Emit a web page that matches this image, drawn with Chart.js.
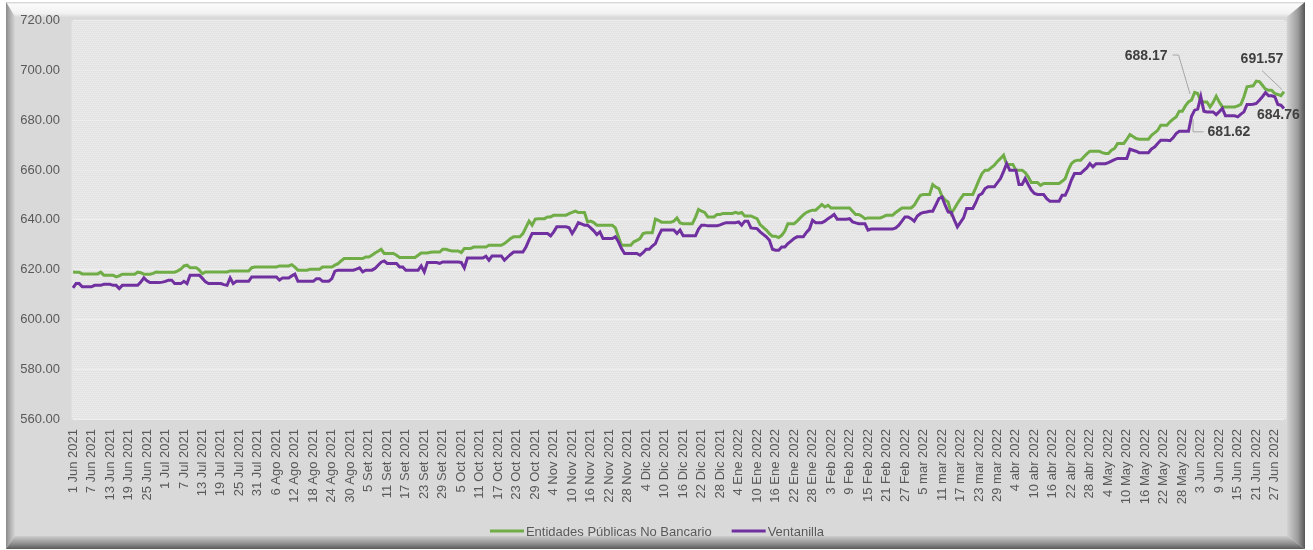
<!DOCTYPE html>
<html>
<head>
<meta charset="utf-8">
<script src="https://cdn.jsdelivr.net/npm/chart.js@4.4.0/dist/chart.umd.min.js"></script>
<style>
  html, body { margin: 0; padding: 0; background: #ffffff; }
  #wrap { position: relative; width: 1313px; height: 550px; }
</style>
</head>
<body>
<div id="wrap"><canvas id="chart" width="1313" height="550"></canvas></div>
<script>
// daily categories 1 Jun 2021 .. 30 Jun 2022 (1 Ene 2022 not in the series)
const monthNames = ['Ene', 'Feb', 'mar', 'abr', 'May', 'Jun', 'Jul', 'Ago', 'Set', 'Oct', 'Nov', 'Dic'];
const firstDay = [2021, 5, 1];
const lastDay = [2022, 5, 30];
const skippedDays = ['2022-0-1'];
const tickEvery = 6;

const seriesNames = ['Entidades Públicas No Bancario', 'Ventanilla'];
const seriesColors = ['#70AD47', '#7030A0'];

const yTicks = { min: 560, max: 720, step: 20 };

// Entidades Públicas No Bancario
const entidadesValues = [
  619.1, 619.0, 619.0, 618.3, 618.3, 618.3,
  618.3, 618.3, 618.3, 619.0, 617.8, 617.8,
  617.8, 617.8, 617.1, 617.5, 618.2, 618.2,
  618.2, 618.2, 618.2, 619.0, 618.8, 618.2,
  618.2, 618.2, 618.5, 619.1, 619.0, 619.0,
  619.0, 619.0, 619.0, 619.0, 619.5, 620.2,
  621.5, 621.8, 620.8, 620.8, 620.8, 619.8,
  618.4, 619.1, 619.1, 619.1, 619.1, 619.1,
  619.1, 619.1, 619.1, 619.5, 619.5, 619.5,
  619.5, 619.5, 619.5, 619.5, 620.8, 621.1,
  621.1, 621.1, 621.1, 621.1, 621.1, 621.1,
  621.1, 621.5, 621.5, 621.5, 621.5, 622.0,
  621.0, 619.8, 619.8, 619.8, 619.8, 620.2,
  620.2, 620.2, 620.2, 621.1, 621.1, 621.1,
  621.1, 621.8, 622.4, 623.5, 624.5, 624.5,
  624.5, 624.5, 624.5, 624.5, 624.5, 625.1,
  625.1, 625.8, 626.7, 627.4, 628.2, 626.5,
  626.5, 626.5, 626.5, 625.8, 624.9, 624.9,
  624.9, 624.9, 624.9, 624.9, 625.8, 626.7,
  626.7, 626.7, 627.0, 627.1, 627.1, 627.1,
  628.2, 628.2, 627.8, 627.5, 627.5, 627.5,
  626.9, 628.5, 628.5, 628.5, 629.1, 629.1,
  629.1, 629.1, 629.1, 629.8, 629.8, 629.8,
  629.8, 629.8, 630.5, 631.5, 632.5, 633.2,
  633.2, 633.2, 634.5, 637.0, 639.5, 637.9,
  640.3, 640.5, 640.5, 640.5, 641.2, 641.2,
  641.9, 641.9, 641.9, 641.9, 641.9, 642.5,
  643.0, 643.5, 643.0, 643.0, 643.0, 639.2,
  639.5, 638.9, 637.9, 637.9, 637.9, 637.9,
  637.9, 637.9, 636.8, 633.2, 629.8, 629.8,
  629.8, 629.8, 631.2, 631.8, 632.5, 634.5,
  634.8, 634.8, 634.8, 640.3, 639.8, 639.1,
  639.1, 639.1, 639.1, 639.5, 640.8, 638.8,
  638.5, 638.5, 638.5, 638.5, 641.0, 644.2,
  643.5, 643.0, 641.2, 641.2, 641.2, 642.2,
  642.2, 642.6, 642.6, 642.6, 642.6, 643.0,
  642.6, 643.0, 641.6, 641.6, 641.6, 641.0,
  640.5, 638.1, 637.0, 635.9, 634.5, 633.4,
  633.4, 632.9, 633.8, 635.5, 638.5, 638.5,
  638.5, 639.5, 640.8, 642.0, 643.0, 643.5,
  643.9, 643.9, 645.0, 646.2, 645.2, 645.9,
  644.8, 644.8, 644.8, 644.8, 644.8, 644.8,
  644.8, 643.5, 642.2, 642.2, 641.5, 640.5,
  640.8, 640.8, 640.8, 640.8, 640.8, 641.3,
  641.9, 641.9, 641.9, 643.0, 643.9, 644.8,
  644.8, 644.8, 644.8, 645.9, 648.0, 649.9,
  650.2, 650.2, 650.2, 654.2, 653.2, 652.6,
  649.6, 648.0, 647.2, 642.6, 644.5, 646.6,
  648.5, 650.2, 650.2, 650.2, 650.2, 653.0,
  656.0, 658.6, 660.0, 660.0, 661.0, 662.0,
  663.5, 664.7, 666.0, 662.3, 662.3, 662.3,
  660.0, 660.0, 660.0, 659.0, 657.3, 655.0,
  655.0, 655.0, 653.9, 654.6, 654.6, 654.6,
  654.6, 654.6, 654.6, 655.5, 656.6, 660.0,
  662.6, 663.6, 664.0, 664.0, 665.3, 666.5,
  667.6, 667.6, 667.6, 667.6, 667.0, 666.7,
  666.7, 668.0, 668.7, 670.7, 670.7, 670.7,
  672.4, 674.3, 673.5, 672.7, 672.4, 672.4,
  672.4, 672.4, 674.0, 675.0, 676.0, 678.0,
  678.0, 678.0, 679.4, 680.5, 681.4, 683.7,
  683.7, 685.8, 687.4, 688.17, 691.2, 690.8,
  687.7, 687.4, 687.4, 685.4, 687.2, 689.7,
  687.4, 685.4, 685.4, 685.4, 685.4, 685.4,
  685.8, 686.4, 689.5, 693.5, 693.7, 693.9,
  695.8, 695.6, 694.1, 692.5, 692.1, 692.1,
  690.8, 690.4, 689.9, 691.57
];

// Ventanilla
const ventanillaValues = [
  612.7, 614.4, 614.4, 613.1, 613.1, 613.1,
  613.1, 613.7, 613.7, 613.7, 614.1, 614.1,
  614.1, 613.7, 613.7, 612.4, 613.7, 613.7,
  613.7, 613.7, 613.7, 613.7, 615.0, 616.7,
  615.5, 614.8, 614.8, 614.8, 614.8, 615.0,
  615.3, 615.8, 615.8, 614.4, 614.4, 614.4,
  615.3, 614.4, 617.8, 617.8, 617.8, 617.8,
  616.5, 615.1, 614.4, 614.4, 614.4, 614.4,
  614.4, 614.0, 613.7, 616.7, 614.4, 615.3,
  615.3, 615.3, 615.3, 615.3, 617.1, 617.1,
  617.1, 617.1, 617.1, 617.1, 617.1, 617.1,
  617.1, 615.8, 616.7, 616.7, 616.7, 617.5,
  618.2, 615.3, 615.3, 615.3, 615.3, 615.3,
  615.3, 616.4, 616.4, 615.3, 615.3, 615.3,
  616.4, 619.4, 619.8, 619.8, 619.8, 619.8,
  619.8, 619.8, 620.2, 620.7, 619.1, 619.8,
  619.8, 619.8, 620.5, 621.8, 623.0, 623.5,
  622.5, 622.5, 622.5, 622.5, 621.1, 621.1,
  619.8, 619.8, 619.8, 619.8, 619.8, 621.5,
  619.1, 622.9, 622.9, 622.9, 622.9, 622.5,
  623.1, 623.1, 623.1, 623.1, 623.1, 623.1,
  622.9, 620.7, 624.7, 624.7, 624.7, 624.7,
  624.7, 624.7, 625.4, 623.8, 625.5, 625.5,
  625.5, 625.5, 623.8, 625.0, 626.1, 627.1,
  627.1, 627.1, 627.1, 629.1, 632.0, 634.5,
  634.5, 634.5, 634.5, 634.5, 634.5, 633.6,
  635.2, 637.2, 637.2, 637.2, 637.2, 636.8,
  634.5, 636.5, 638.9, 638.4, 637.9, 637.9,
  636.8, 635.6, 634.1, 635.2, 632.5, 632.5,
  632.5, 632.5, 633.2, 631.2, 628.5, 626.5,
  626.5, 626.5, 626.5, 626.5, 625.8, 626.8,
  628.2, 628.2, 629.5, 630.5, 633.5, 635.9,
  635.9, 635.9, 635.9, 635.9, 634.5, 635.9,
  633.6, 633.6, 633.6, 633.6, 633.6, 636.3,
  637.9, 637.9, 637.6, 637.6, 637.6, 637.6,
  638.0, 638.5, 638.9, 638.9, 638.9, 638.9,
  639.2, 637.9, 639.5, 639.5, 636.8, 636.6,
  636.5, 635.2, 634.2, 633.2, 631.8, 628.2,
  627.8, 627.8, 629.1, 629.1, 630.5, 631.5,
  632.5, 633.2, 633.2, 633.2, 635.0, 636.3,
  639.9, 638.9, 638.9, 638.9, 639.5, 640.5,
  641.3, 642.2, 640.3, 640.3, 640.3, 640.3,
  640.5, 639.2, 638.8, 638.5, 638.5, 638.5,
  635.9, 636.3, 636.3, 636.3, 636.3, 636.3,
  636.3, 636.3, 636.3, 636.8, 637.9, 639.5,
  641.2, 641.2, 640.5, 639.5, 641.6, 642.5,
  643.0, 643.2, 643.5, 643.5, 646.0, 648.6,
  649.2, 646.0, 643.2, 643.0, 640.0, 637.2,
  639.0, 640.8, 644.6, 644.6, 644.6, 647.0,
  649.9, 650.6, 652.6, 653.3, 653.3, 653.3,
  655.0, 656.6, 659.5, 662.6, 660.0, 660.0,
  660.0, 654.2, 654.2, 656.6, 654.2, 652.0,
  650.6, 650.2, 650.2, 650.2, 648.5, 647.5,
  647.5, 647.5, 647.5, 649.9, 649.9, 652.5,
  656.0, 658.6, 658.6, 658.6, 659.8, 660.9,
  662.6, 661.3, 662.6, 662.6, 662.6, 662.6,
  663.0, 663.6, 664.2, 664.7, 664.7, 664.7,
  664.7, 668.4, 668.0, 667.6, 667.0, 667.0,
  667.0, 667.0, 668.5, 669.3, 670.7, 672.0,
  672.0, 672.0, 671.8, 673.0, 674.7, 675.6,
  675.6, 675.6, 675.6, 681.62, 684.1, 684.5,
  689.5, 683.7, 683.4, 683.4, 683.4, 682.3,
  683.5, 684.8, 681.8, 681.8, 681.8, 681.8,
  681.4, 682.5, 683.4, 686.4, 686.4, 686.5,
  686.8, 688.1, 689.5, 691.2, 689.9, 689.9,
  689.5, 686.4, 686.1, 684.76
];

// labelled points: [series, index]
const labelledPoints = [[0, 363], [1, 363], [0, 393], [1, 393]];

const categories = [];
for (let d = new Date(firstDay[0], firstDay[1], firstDay[2]);
     d <= new Date(lastDay[0], lastDay[1], lastDay[2]);
     d.setDate(d.getDate() + 1)) {
  const key = d.getFullYear() + '-' + d.getMonth() + '-' + d.getDate();
  if (skippedDays.includes(key)) continue;
  categories.push(d.getDate() + ' ' + monthNames[d.getMonth()] + ' ' + d.getFullYear());
}

const FONT = '"Liberation Sans", Arial, sans-serif';
const TXT = '#595959';

// texture for the plot area
const tex = document.createElement('canvas');
tex.width = 4; tex.height = 4;
(function () {
  const c = tex.getContext('2d');
  c.fillStyle = '#e6e6e6';
  c.fillRect(0, 0, 4, 4);
  c.fillStyle = '#ededed';
  for (let i = 0; i < 4; i++) c.fillRect(i, (i * 2) % 4, 1, 1);
  c.fillStyle = '#e0e0e0';
  for (let i = 0; i < 4; i++) c.fillRect(i, (i * 2 + 1) % 4, 1, 1);
})();

const framePlugin = {
  id: 'frame',
  beforeDraw(chart) {
    const ctx = chart.ctx;
    const L = 6, T = 2, R = 1305, B = 549;
    const li = 15, ti = 17, ri = 1287, bi = 536;
    ctx.save();
    ctx.fillStyle = '#ffffff';
    ctx.fillRect(0, 0, chart.width, chart.height);
    ctx.fillStyle = '#d9d9d9';
    ctx.fillRect(L, T, R - L, B - T);

    function poly(pts, fill) {
      ctx.beginPath();
      ctx.moveTo(pts[0][0], pts[0][1]);
      for (let i = 1; i < pts.length; i++) ctx.lineTo(pts[i][0], pts[i][1]);
      ctx.closePath();
      ctx.fillStyle = fill;
      ctx.fill();
    }
    let g = ctx.createLinearGradient(0, T, 0, ti);
    g.addColorStop(0, '#cfcfcf'); g.addColorStop(0.15, '#fbfbfb');
    g.addColorStop(0.75, '#f2f2f2'); g.addColorStop(1, '#dcdcdc');
    poly([[L, T], [R, T], [ri, ti], [li, ti]], g);

    g = ctx.createLinearGradient(L, 0, li, 0);
    g.addColorStop(0, '#8a8a8a'); g.addColorStop(0.35, '#a8a8a8'); g.addColorStop(1, '#d6d6d6');
    poly([[L, T], [li, ti], [li, bi], [L, B]], g);

    g = ctx.createLinearGradient(ri, 0, R, 0);
    g.addColorStop(0, '#d2d2d2'); g.addColorStop(0.6, '#9c9c9c'); g.addColorStop(1, '#555555');
    poly([[R, T], [R, B], [ri, bi], [ri, ti]], g);

    g = ctx.createLinearGradient(0, bi, 0, B);
    g.addColorStop(0, '#cdcdcd'); g.addColorStop(0.6, '#8e8e8e'); g.addColorStop(1, '#5a5a5a');
    poly([[L, B], [li, bi], [ri, bi], [R, B]], g);

    const a = chart.chartArea;
    ctx.fillStyle = ctx.createPattern(tex, 'repeat');
    ctx.fillRect(a.left - 1.5, a.top, a.right - a.left + 4, a.bottom - a.top);
    ctx.restore();
  },
  afterDraw(chart) {
    const ctx = chart.ctx;
    ctx.save();
    // legend
    ctx.font = '13px ' + FONT;
    ctx.textBaseline = 'middle';
    const w0 = ctx.measureText(seriesNames[0]).width;
    const w1 = ctx.measureText(seriesNames[1]).width;
    const sw = 34, gap = 2, between = 20;
    const total = sw + gap + w0 + between + sw + gap + w1;
    let x = 657 - total / 2;
    const ly = 531;
    [w0, w1].forEach((w, i) => {
      ctx.strokeStyle = seriesColors[i];
      ctx.lineWidth = 3;
      ctx.beginPath(); ctx.moveTo(x, ly); ctx.lineTo(x + sw, ly); ctx.stroke();
      ctx.fillStyle = TXT;
      ctx.textAlign = 'left';
      ctx.fillText(seriesNames[i], x + sw + gap, ly + 1);
      x += sw + gap + w + between;
    });

    // data labels with leader lines
    const all = [entidadesValues, ventanillaValues];
    const xs = chart.scales.x, ys = chart.scales.y;
    ctx.font = 'bold 14px ' + FONT;
    ctx.strokeStyle = '#a6a6a6';
    ctx.lineWidth = 1;
    ctx.fillStyle = '#404040';
    labelledPoints.forEach(([s, i], n) => {
      const v = all[s][i];
      const px = xs.getPixelForValue(i), py = ys.getPixelForValue(v);
      const txt = v.toFixed(2);
      ctx.beginPath();
      if (n === 0) {
        ctx.moveTo(px - 19, py - 45); ctx.lineTo(px - 13, py - 45); ctx.lineTo(px - 1.5, py - 6);
        ctx.stroke();
        ctx.textAlign = 'right'; ctx.fillText(txt, px - 24, py - 44);
      } else if (n === 1) {
        ctx.moveTo(px + 12, py + 15.5); ctx.lineTo(px + 1.5, py + 15.5); ctx.lineTo(px + 1.5, py + 3);
        ctx.stroke();
        ctx.textAlign = 'left'; ctx.fillText(txt, px + 16, py + 16);
      } else if (n === 2) {
        ctx.moveTo(px - 22, py - 21); ctx.lineTo(px - 2, py - 2);
        ctx.stroke();
        ctx.textAlign = 'center'; ctx.fillText(txt, px - 22, py - 32);
      } else {
        ctx.textAlign = 'left'; ctx.fillText(txt, px - 27, py + 7);
      }
    });
    ctx.restore();
  }
};

new Chart(document.getElementById('chart'), {
  type: 'line',
  data: {
    labels: categories,
    datasets: [
      {
        label: seriesNames[0],
        data: entidadesValues,
        borderColor: seriesColors[0],
        backgroundColor: seriesColors[0],
        borderWidth: 3,
        pointRadius: 0,
        tension: 0,
        order: 1
      },
      {
        label: seriesNames[1],
        data: ventanillaValues,
        borderColor: seriesColors[1],
        backgroundColor: seriesColors[1],
        borderWidth: 3,
        pointRadius: 0,
        tension: 0,
        order: 0
      }
    ]
  },
  options: {
    responsive: false,
    animation: false,
    devicePixelRatio: 1,
    layout: { padding: { left: 15, right: 29, top: 19, bottom: 2 } },
    plugins: {
      legend: { display: false },
      tooltip: { enabled: false }
    },
    scales: {
      x: {
        type: 'category',
        offset: false,
        grid: { display: false, drawTicks: false },
        border: { display: false },
        ticks: {
          autoSkip: false,
          minRotation: 90,
          maxRotation: 90,
          padding: 10,
          color: TXT,
          font: { family: FONT, size: 13 },
          callback: (v, i) => (i % tickEvery === 0 ? categories[i] : '')
        },
        afterFit: (s) => { s.height = 129; }
      },
      y: {
        min: yTicks.min,
        max: yTicks.max,
        grid: { color: '#eeeeee', lineWidth: 1, drawTicks: false },
        border: { display: false },
        ticks: {
          stepSize: yTicks.step,
          padding: 13,
          color: TXT,
          font: { family: FONT, size: 13 },
          callback: (v) => v.toFixed(2)
        },
        afterFit: (s) => { s.width = 58; }
      }
    }
  },
  plugins: [framePlugin]
});
</script>
</body>
</html>
